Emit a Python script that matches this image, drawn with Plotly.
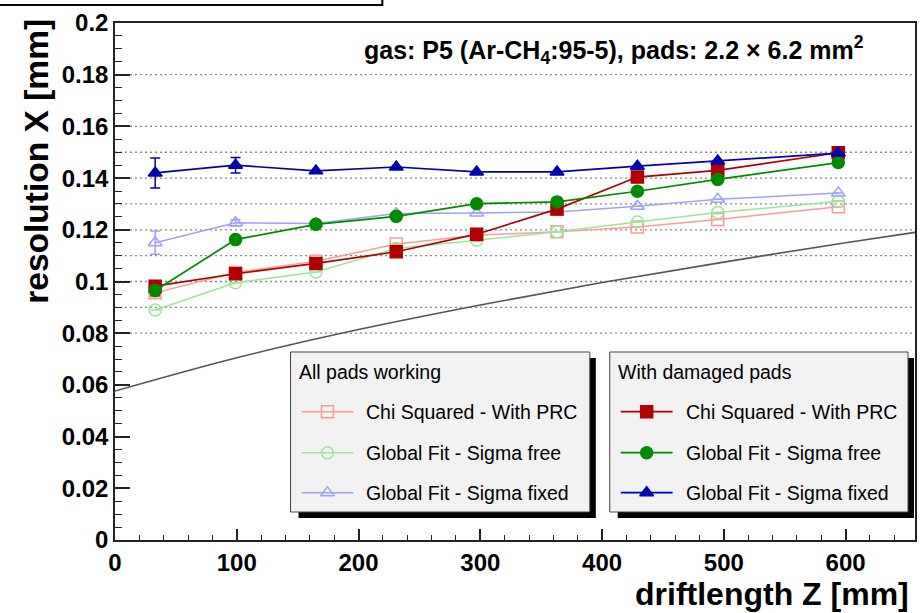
import plotly.graph_objects as go

# ---------------- data ----------------
driftlength = [33, 99, 165, 231, 297, 363, 429, 495, 594]

# All pads working (light colours, open markers)
chi2_all = [0.0956, 0.1035, 0.1078, 0.1145, 0.1179, 0.1192, 0.1211, 0.1240, 0.1289]
chi2_all_err = [0.0015, 0, 0, 0, 0, 0, 0, 0, 0]
gfree_all = [0.0890, 0.0995, 0.1037, 0.1128, 0.1160, 0.1192, 0.1230, 0.1267, 0.1310]
gfree_all_err = [0, 0, 0, 0, 0, 0, 0, 0, 0]
gfix_all = [0.1150, 0.1227, 0.1224, 0.1263, 0.1265, 0.1269, 0.1291, 0.1318, 0.1342]
gfix_all_err = [0.0045, 0.0012, 0, 0, 0, 0, 0, 0, 0]

# With damaged pads (dark colours, filled markers)
chi2_dam = [0.0982, 0.1030, 0.1070, 0.1115, 0.1183, 0.1280, 0.1404, 0.1430, 0.1498]
chi2_dam_err = [0.002, 0, 0, 0, 0, 0, 0, 0, 0]
gfree_dam = [0.0965, 0.1162, 0.1221, 0.1252, 0.1301, 0.1308, 0.1349, 0.1395, 0.1460]
gfree_dam_err = [0.002, 0, 0, 0, 0, 0, 0, 0, 0]
gfix_dam = [0.1420, 0.1450, 0.1428, 0.1443, 0.1424, 0.1424, 0.1446, 0.1466, 0.1497]
gfix_dam_err = [0.0058, 0.003, 0, 0, 0, 0, 0, 0, 0]

# reference curve
curve_z = [0, 100, 200, 300, 400, 500, 600, 657]
curve_res = [0.0576, 0.0705, 0.0814, 0.0909, 0.0996, 0.1075, 0.1150, 0.1190]

grid_vals = [0.08, 0.09, 0.10, 0.11, 0.12, 0.13, 0.14, 0.15, 0.16, 0.18]

x_range = [0, 657]
y_range = [0, 0.2]

legend_all_title = "All pads working"
legend_dam_title = "With damaged pads"
entry_names = ["Chi Squared - With PRC", "Global Fit - Sigma free", "Global Fit - Sigma fixed"]

# ---------------- layout geometry (pixels) ----------------
W, H = 921, 613
L, R, T, B = 115, 4, 23, 73
PW, PH = W - L - R, H - T - B


def px(xp):
    return (xp - L) / PW


def py(yp):
    return (H - B - yp) / PH


FONT = "Liberation Sans"

fig = go.Figure()

# reference curve
fig.add_trace(go.Scatter(x=curve_z, y=curve_res, mode="lines", line=dict(color="#555555", width=1.6, shape="spline"),
                         showlegend=False, hoverinfo="skip"))

series = [
    (chi2_all, chi2_all_err, "#ff9a9a", "square-open", 1.5),
    (gfree_all, gfree_all_err, "#99e899", "circle-open", 1.5),
    (gfix_all, gfix_all_err, "#a0a0ff", "triangle-up-open", 1.5),
    (chi2_dam, chi2_dam_err, "#b00000", "square", 1.7),
    (gfree_dam, gfree_dam_err, "#008a00", "circle", 1.7),
    (gfix_dam, gfix_dam_err, "#0000b0", "triangle-up", 1.7),
]
for vals, errs, col, sym, lw in series:
    fig.add_trace(go.Scatter(
        x=driftlength, y=vals, mode="lines+markers",
        line=dict(color=col, width=lw),
        marker=dict(symbol=sym, size=12, color=col, line=dict(color=col, width=1.5)),
        error_y=dict(type="data", array=errs, color=col, thickness=1.5, width=5),
        showlegend=False, cliponaxis=False))

# ---------------- custom legends ----------------
boxes = [
    dict(x0=291, x1=591, y0=352, y1=512, title=legend_all_title, tx=297, sample_x=(302, 328, 354), text_x=365,
         items=series[:3]),
    dict(x0=611, x1=910, y0=352, y1=512, title=legend_dam_title, tx=617, sample_x=(622, 648, 674), text_x=685,
         items=series[3:]),
]
entry_y = [411.7, 452.7, 492.7]

shapes = []
annotations = []

# grid lines
for g in grid_vals:
    shapes.append(dict(type="line", xref="paper", yref="y", x0=0, x1=1, y0=g, y1=g,
                       line=dict(color="#8a8a8a", width=1.3, dash="2px,3px"), layer="below"))

for b in boxes:
    shapes.append(dict(type="rect", xref="paper", yref="paper",
                       x0=px(b["x0"] + 8), x1=px(b["x1"] + 6), y0=py(b["y1"] + 6), y1=py(b["y0"] + 6),
                       fillcolor="black", line=dict(width=0), layer="below"))
    shapes.append(dict(type="rect", xref="paper", yref="paper",
                       x0=px(b["x0"]), x1=px(b["x1"]), y0=py(b["y1"]), y1=py(b["y0"]),
                       fillcolor="#f2f2f2", line=dict(color="#444444", width=1), layer="below"))
    annotations.append(dict(text=b["title"], xref="paper", yref="paper", x=px(b["tx"]), y=py(372),
                            xanchor="left", yanchor="middle", showarrow=False,
                            font=dict(family=FONT, size=19.5, color="black")))
    for (vals, errs, col, sym, lw), ey, name in zip(b["items"], entry_y, entry_names):
        sx = b["sample_x"]
        fig.add_trace(go.Scatter(x=[sx[0], sx[2]], y=[ey, ey], xaxis="x2", yaxis="y2", mode="lines",
                                 line=dict(color=col, width=lw), showlegend=False, hoverinfo="skip"))
        fig.add_trace(go.Scatter(x=[sx[1]], y=[ey], xaxis="x2", yaxis="y2", mode="markers",
                                 marker=dict(symbol=sym, size=12, color=col, line=dict(color=col, width=1.5)),
                                 showlegend=False, hoverinfo="skip"))
        annotations.append(dict(text=name, xref="paper", yref="paper", x=px(b["text_x"]), y=py(ey),
                                xanchor="left", yanchor="middle", showarrow=False,
                                font=dict(family=FONT, size=19.5, color="black")))

# cut-off title box at top
shapes.append(dict(type="rect", xref="paper", yref="paper", x0=px(-5), x1=px(383), y0=py(5), y1=py(-20),
                   fillcolor="white", line=dict(color="black", width=2), layer="above"))

# gas annotation
annotations.append(dict(text="gas: P5 (Ar-CH<sub>4</sub>:95-5), pads: 2.2 \u00d7 6.2 mm<sup>2</sup>",
                        xref="paper", yref="paper", x=px(868), y=py(50), xanchor="right", yanchor="middle",
                        showarrow=False, font=dict(family=FONT, size=25, color="black", weight="bold")))
# axis titles
annotations.append(dict(text="driftlength Z [mm]", xref="paper", yref="paper", x=px(913), y=py(594),
                        xanchor="right", yanchor="middle", showarrow=False,
                        font=dict(family=FONT, size=32, color="black", weight="bold")))
annotations.append(dict(text="resolution X [mm]", xref="paper", yref="paper", x=px(36), y=py(17),
                        xanchor="center", yanchor="top", textangle=-90, showarrow=False,
                        font=dict(family=FONT, size=33.5, color="black", weight="bold")))

fig.update_layout(
    width=W, height=H, margin=dict(l=L, r=R, t=T, b=B),
    paper_bgcolor="white", plot_bgcolor="white",
    showlegend=False,
    shapes=shapes, annotations=annotations,
    xaxis=dict(range=x_range, showgrid=False, zeroline=False, showline=True, mirror=True,
               linecolor="#222222", linewidth=1.5, ticks="inside", ticklen=11, tickwidth=1.5, tickcolor="#222222",
               dtick=100, tick0=0,
               minor=dict(ticks="inside", ticklen=5.5, dtick=20, tickwidth=1.2, tickcolor="#222222"),
               tickfont=dict(family=FONT, size=24, color="black", weight="bold")),
    yaxis=dict(range=y_range, showgrid=False, zeroline=False, showline=True, mirror=True,
               linecolor="#222222", linewidth=1.5, ticks="inside", ticklen=15, tickwidth=1.5, tickcolor="#222222",
               dtick=0.02, tick0=0,
               minor=dict(ticks="inside", ticklen=7.5, dtick=0.005, tickwidth=1.2, tickcolor="#222222"),
               tickfont=dict(family=FONT, size=24, color="black", weight="bold")),
    xaxis2=dict(overlaying="x", range=[L, W - R], visible=False, fixedrange=True),
    yaxis2=dict(overlaying="y", range=[H - B, T], visible=False, fixedrange=True),
)

fig.write_html("out.html")
